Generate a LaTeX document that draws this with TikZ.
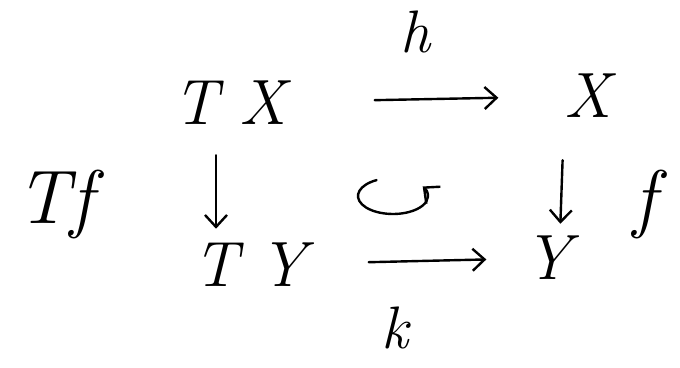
\documentclass[tikz,border=0pt]{standalone}
\usetikzlibrary{arrows.meta}

\begin{document}
\begin{tikzpicture}[x=0.5pt, y=-0.5pt,
  obj/.style={inner sep=1pt, font=\fontsize{32}{38}\selectfont\itshape},
  lbl/.style={inner sep=1pt, font=\fontsize{30}{36}\selectfont\itshape},
  side/.style={lbl, font=\fontsize{38}{44}\selectfont\itshape},
  arr/.style={-{Straight Barb[length=6pt, width=11pt]}, line width=1.2pt, line cap=round}
]
  \useasboundingbox (0,0) rectangle (680,368);
  % the four corners
  \node[obj] (tx) at (230,103) {T\,\,X};
  \node[obj] (x)  at (588,96)  {X};
  \node[obj] (ty) at (250,265) {T\,\,Y};
  \node[obj] (y)  at (548,258) {Y};
  % arrow labels
  \node[lbl] (h)  at (415,32)  {h};
  \node[lbl] (k)  at (395,328) {k};
  \node[side] (tf) at (55,205) {Tf};
  \node[side] (f)  at (645,205) {f};
  \coordinate (rot) at (393,196);

  \draw[arr, shorten <=43pt, shorten >=32pt] (tx) -- (x);
  \draw[arr, shorten <=30pt, shorten >=18pt] (ty) -- (y);
  \draw[arr, shorten <=14pt, shorten >=6pt] ([xshift=-7pt]tx.south) -- ([xshift=-17pt]ty.north);
  \draw[arr, shorten <=20pt, shorten >=5pt] ([xshift=-12pt]x.south) -- ([xshift=6pt]y.north);
  % commutes
  \draw[arr] ([shift={(242:35 and 18)}]rot) arc[start angle=242, end angle=-32, x radius=35, y radius=18];
\end{tikzpicture}
\end{document}
